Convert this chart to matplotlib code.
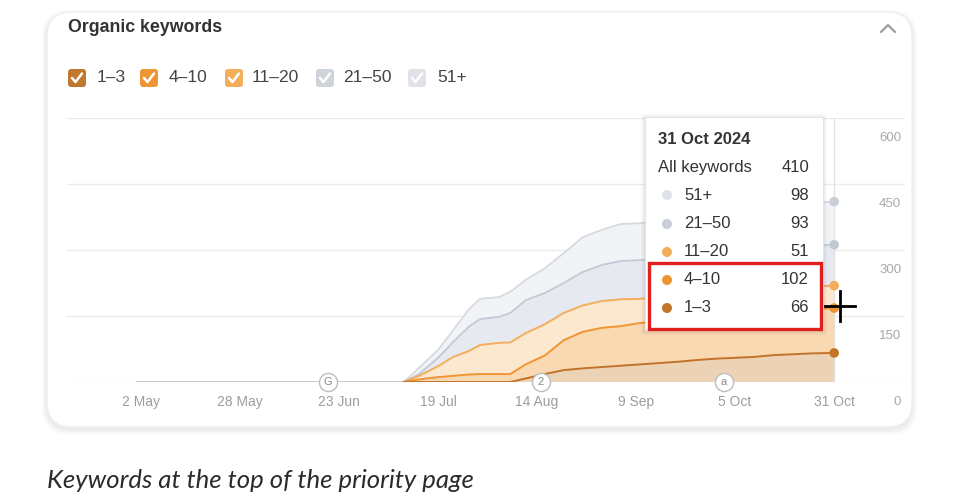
import matplotlib
matplotlib.use('Agg')
import matplotlib.pyplot as plt
import matplotlib.dates as mdates
from matplotlib.patches import FancyBboxPatch, Rectangle, Circle
from matplotlib.lines import Line2D
from matplotlib.transforms import offset_copy, blended_transform_factory, IdentityTransform
import numpy as np
import pandas as pd

plt.rcParams['font.family'] = ['Liberation Sans', 'DejaVu Sans']

# ---------------- data ----------------
dates = pd.to_datetime([
    '2024-05-01', '2024-07-10', '2024-07-14', '2024-07-19', '2024-07-23', '2024-07-27',
    '2024-07-30', '2024-08-04', '2024-08-07', '2024-08-11', '2024-08-16', '2024-08-21',
    '2024-08-26', '2024-08-31', '2024-09-05', '2024-09-10', '2024-09-15', '2024-09-20',
    '2024-09-25', '2024-09-30', '2024-10-05', '2024-10-10', '2024-10-15', '2024-10-20',
    '2024-10-25', '2024-10-31'])
series_names = ['1–3', '4–10', '11–20', '21–50', '51+']
pos_1_3   = [0, 0, 0, 0, 0, 0, 0, 0, 0, 8, 18, 27, 31, 34, 37, 40, 43, 46, 50, 53, 55, 57, 61, 63, 65, 66]
pos_4_10  = [0, 0, 6, 11, 14, 17, 18, 18, 18, 32, 42, 68, 83, 89, 90, 94, 95, 96, 96, 97, 99, 100, 99, 100, 100, 102]
pos_11_20 = [0, 0, 8, 25, 43, 53, 66, 71, 72, 71, 71, 62, 60, 61, 61, 55, 55, 54, 53, 53, 52, 52, 52, 52, 52, 51]
pos_21_50 = [0, 0, 4, 19, 34, 55, 59, 59, 67, 75, 71, 68, 76, 82, 87, 88, 87, 88, 90, 90, 91, 92, 92, 92, 93, 93]
pos_51    = [0, 0, 14, 18, 27, 39, 46, 45, 48, 46, 56, 68, 79, 80, 84, 84, 85, 86, 87, 89, 91, 92, 94, 96, 97, 98]

y_ticks = [0, 150, 300, 450, 600]
x_tick_dates = pd.to_datetime(['2024-05-02', '2024-05-28', '2024-06-23', '2024-07-19',
                               '2024-08-14', '2024-09-09', '2024-10-05', '2024-10-31'])
x_tick_labels = ['2 May', '28 May', '23 Jun', '19 Jul', '14 Aug', '9 Sep', '5 Oct', '31 Oct']
event_dates = pd.to_datetime(['2024-06-20', '2024-08-15', '2024-10-02'])
event_labels = ['G', '2', 'a']
tooltip_date = '31 Oct 2024'

# ---------------- styles ----------------
line_cols = ['#c27329', '#ef9534', '#f2ae5e', '#c3cad4', '#d6dae1']
fill_cols = ['#ecd3b6', '#f9d9b2', '#fce7cf', '#e6eaf0', '#f1f3f6']
box_cols = ['#c0782f', '#ee9535', '#f3ae5a', '#cfd4db', '#dfe2e7']
dot_cols = ['#c27528', '#ee9332', '#f2ad5a', '#c8ced7', '#dfe2e8']

W, H = 963, 500
fig = plt.figure(figsize=(W / 100, H / 100), dpi=100)
fig.patch.set_facecolor('white')
ID = IdentityTransform()


def fx(x):
    return x / W


def fy(y):
    return 1 - y / H


# card with soft shadow
cx0, cy0, cx1, cy1 = 47, 12, 912, 427
for i in range(10, 0, -1):
    sh = FancyBboxPatch((cx0 - i * 0.5, H - cy1 - 2 - i * 0.6), (cx1 - cx0) + i * 1.0, (cy1 - cy0) + i * 1.0,
                        boxstyle='round,pad=0,rounding_size=26', transform=ID,
                        facecolor='#000000', edgecolor='none', alpha=0.009, zorder=-12)
    fig.add_artist(sh)
card = FancyBboxPatch((cx0, H - cy1), cx1 - cx0, cy1 - cy0, boxstyle='round,pad=0,rounding_size=25',
                      transform=ID, facecolor='white', edgecolor='#eeeeee', lw=0.8, zorder=-10)
fig.add_artist(card)

# title and chevron
fig.text(fx(68), fy(28), 'Organic keywords', fontsize=12.8, fontweight='bold', color='#333333',
         va='center', ha='left')
fig.add_artist(Line2D([881, 888, 895], [H - 32, H - 25, H - 32], transform=ID, color='#9a9a9a', lw=1.5))

# legend (checkboxes)
box_x = [68, 140, 225, 316, 408]
lab_x = [97, 169, 252, 343, 437]
for bx, lx, c, name in zip(box_x, lab_x, box_cols, series_names):
    fig.add_artist(FancyBboxPatch((bx, H - 87), 18, 18, boxstyle='round,pad=0,rounding_size=3',
                                  transform=ID, facecolor=c, edgecolor='none'))
    fig.add_artist(Line2D([bx + 4, bx + 7.5, bx + 14], [H - 78, H - 82, H - 73.5], transform=ID,
                          color='white', lw=1.8, solid_capstyle='round', solid_joinstyle='round'))
    fig.text(fx(lx), fy(78), name, fontsize=12.5, color='#444444', va='center', ha='left')

# ---------------- axes ----------------
ax = fig.add_axes([fx(67), fy(382), (905 - 67) / W, (382 - 118) / H])
ax.patch.set_visible(False)
for s in ax.spines.values():
    s.set_visible(False)

vals = [pos_1_3, pos_4_10, pos_11_20, pos_21_50, pos_51]
arr = np.array(vals, dtype=float)
cum = np.cumsum(arr, axis=0)
x = mdates.date2num(dates)

ax.stackplot(x, arr, colors=fill_cols, lw=0, zorder=2)
# boundary lines (top ones first)
for i in range(4, -1, -1):
    if i >= 3:
        ax.plot(x, cum[i], color=line_cols[i], lw=1.3, zorder=3)
    else:
        ax.plot(x[1:], cum[i][1:], color=line_cols[i], lw=1.4, zorder=3 + (3 - i) * 0.1)

x0 = mdates.date2num(pd.Timestamp('2024-05-02'))
ax.set_xlim(x0 - 19.4, x0 + 200.6)
ax.set_ylim(0, 600)
ax.set_yticks(y_ticks)
ax.yaxis.grid(True, color='#ebebeb', lw=1)
ax.set_axisbelow(True)
ax.tick_params(axis='y', left=False, labelleft=False)
ax.set_xticks(mdates.date2num(x_tick_dates))
ax.set_xticklabels(x_tick_labels)
ax.tick_params(axis='x', length=0, pad=17, labelsize=10, labelcolor='#9d9d9d')
for lab in ax.get_xticklabels():
    lab.set_va('baseline')

trans = offset_copy(blended_transform_factory(ax.transAxes, ax.transData), fig=fig, y=-20, units='dots')
for v in y_ticks:
    ax.text(0.9955, v, str(v), transform=trans, ha='right', va='center', fontsize=9.5, color='#a8a8a8')

# hover line
ax.axvline(x[-1], color='#e2e2e2', lw=1, zorder=1)
# end dots
ax.scatter([x[-1]] * 5, cum[:, -1], s=48, c=dot_cols[:3] + ['#c3c9d2', '#c9ced6'], zorder=5,
           edgecolors='none', clip_on=False)

# events
ev = mdates.date2num(event_dates)
ax.scatter(ev, [0] * len(ev), s=170, facecolor='white', edgecolor='#bdbdbd', lw=1, zorder=6, clip_on=False)
for e, l in zip(ev, event_labels):
    ax.text(e, 0, l, ha='center', va='center', fontsize=8, color='#8a8a8a', zorder=7)

# ---------------- tooltip ----------------
tx0, ty0, tx1, ty1 = 645, 117, 823, 330
for i in range(4, 0, -1):
    fig.add_artist(Rectangle((tx0 - i, H - ty1 - i - 1), (tx1 - tx0) + 2 * i, (ty1 - ty0) + 2 * i,
                             transform=ID, facecolor='#000000', edgecolor='none', alpha=0.02, zorder=9))
fig.add_artist(Rectangle((tx0, H - ty1), tx1 - tx0, ty1 - ty0, transform=ID, facecolor='white',
                         edgecolor='#e4e4e4', lw=0.8, zorder=10))
fig.text(fx(658), fy(139), tooltip_date, fontsize=12, fontweight='bold', color='#333333',
         va='center', ha='left', zorder=11)
total = int(arr[:, -1].sum())
fig.text(fx(658), fy(167), 'All keywords', fontsize=12, color='#333333', va='center', ha='left', zorder=11)
fig.text(fx(809), fy(167), str(total), fontsize=12, color='#333333', va='center', ha='right', zorder=11)
row_y = [308, 280, 252, 224, 195]
for i in range(5):
    yy = row_y[i]
    fig.add_artist(Circle((667, H - yy), 5, transform=ID, facecolor=dot_cols[i], edgecolor='none', zorder=11))
    fig.text(fx(684), fy(yy), series_names[i], fontsize=12, color='#333333', va='center', ha='left', zorder=11)
    fig.text(fx(809), fy(yy), str(int(arr[i, -1])), fontsize=12, color='#333333', va='center', ha='right',
             zorder=11)
fig.add_artist(Rectangle((649, H - 329), 172, 66, transform=ID, facecolor='none', edgecolor='#e0201e',
                         lw=2.4, zorder=12))

# cursor crosshair
fig.add_artist(Line2D([825, 855], [H - 306, H - 306], transform=ID, color='black', lw=2, zorder=13))
fig.add_artist(Line2D([840, 840], [H - 291, H - 321], transform=ID, color='black', lw=2, zorder=13))

# caption
fig.text(fx(47), fy(480), 'Keywords at the top of the priority page', fontsize=18.5, style='italic',
         family=['Lato', 'DejaVu Sans'], color='#2b2b2b', va='center', ha='left')

fig.savefig('out.png', dpi=100)
